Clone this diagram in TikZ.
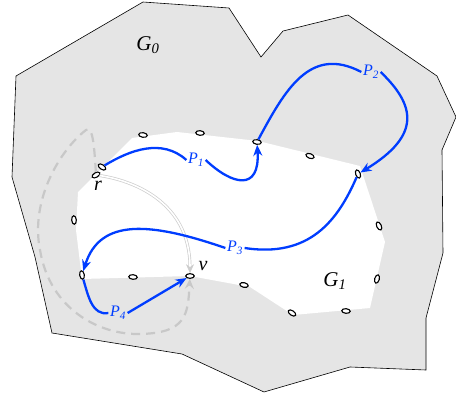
\documentclass[tikz,border=0pt]{standalone}
\usepackage{fontspec}
\setmainfont{Liberation Serif}
\usetikzlibrary{arrows.meta,shapes.geometric}
\definecolor{pathblue}{RGB}{0,61,255}
\definecolor{areagray}{RGB}{229,229,229}
\definecolor{ghostgray}{RGB}{200,200,200}
\definecolor{linkgray}{RGB}{205,205,205}

\begin{document}
\begin{tikzpicture}[x=1pt,y=-1pt,
  oval/.style={ellipse,draw,line width=1.1pt,fill=white,minimum width=8.6pt,minimum height=4.6pt,inner sep=0pt},
  route/.style={draw=pathblue,line width=2.3pt},
  tip/.style={-{Stealth[length=11pt,width=9pt,inset=3.5pt]}},
  plabel/.style={text=pathblue,font=\fontsize{16}{17}\selectfont\itshape,inner sep=1.5pt},
  glabel/.style={font=\fontsize{21}{22}\selectfont\itshape},
  vlabel/.style={font=\fontsize{20}{21}\selectfont\itshape}]
\useasboundingbox (0,0) rectangle (456,396);
% the two regions
\draw[fill=areagray,line width=0.6pt] (16,76) -- (143,2) -- (229,8) -- (261,57) -- (283,31) -- (348,15) -- (437,76) -- (456,117) -- (442,150) -- (443,253) -- (426,318) -- (426,370) -- (350,367) -- (264,392) -- (182,354) -- (52,333) -- (35,257) -- (12,177) -- cycle;
\fill[white] (132,138) -- (177,132) -- (258,141) -- (360,166) -- (385,242) -- (370,308) -- (293,315) -- (250,287) -- (190,276) -- (82,279) -- (76,230) -- (78,192) -- cycle;
% vertices on the boundary
\node[oval,rotate=-35] (r) at (102,167) {};
\node[oval,rotate=30] (r2) at (96,175) {};
\node[oval,rotate=-8] (a1) at (143,135) {};
\node[oval,rotate=-5] (a2) at (200,133) {};
\node[oval,rotate=-8] (a) at (257,142) {};
\node[oval,rotate=-20] (a3) at (310,156) {};
\node[oval,rotate=-70] (b) at (358,174) {};
\node[oval,rotate=-65] (b1) at (379,226) {};
\node[oval,rotate=75] (b2) at (377,279) {};
\node[oval,rotate=-5] (b3) at (346,311) {};
\node[oval,rotate=-35] (b4) at (292,313) {};
\node[oval,rotate=-12] (b5) at (244,285) {};
\node[oval] (v) at (190,276) {};
\node[oval,rotate=-5] (b6) at (133,277) {};
\node[oval,rotate=-80] (c) at (82,275) {};
\node[oval,rotate=-85] (c1) at (74,220) {};
% grey connections from r to v
\draw[ghostgray,line width=2.2pt,dash pattern=on 9pt off 6pt,-{Stealth[length=10pt,width=9pt,inset=3.5pt]}] (r2) .. controls (94,140) and (92,126) .. (86,130) .. controls (60,150) and (30,200) .. (40,250) .. controls (50,310) and (100,335) .. (140,334) .. controls (186,333) and (188,315) .. (v);
\draw[linkgray,double=white,line width=0.7pt,double distance=1.6pt,-{Stealth[length=9pt,width=8pt,inset=3pt]}] (r2) .. controls (130,180) and (190,200) .. (v);
\node[vlabel] (rl) at (98,186) {r};
\node[vlabel] (vl) at (203,266) {v};
\node[glabel] (g0) at (148,45) {G\textsubscript{0}};
\node[glabel] (g1) at (335,281) {G\textsubscript{1}};
% the four paths
\node[plabel] (p1) at (196,160) {P\textsubscript{1}};
\node[plabel] (p2) at (371,72) {P\textsubscript{2}};
\node[plabel] (p3) at (235,248) {P\textsubscript{3}};
\node[plabel] (p4) at (118,313) {P\textsubscript{4}};
\draw[route] (r) .. controls (130,150) and (162,138) .. (p1.west);
\draw[route,tip] (p1.east) .. controls (232,185) and (260,192) .. (a);
\draw[route] (a) .. controls (285,90) and (310,45) .. (p2.west);
\draw[route,tip] (p2.east) .. controls (415,105) and (422,135) .. (b);
\draw[route] (b) .. controls (338,220) and (310,258) .. (p3.east);
\draw[route,tip] (p3.west) .. controls (150,222) and (100,218) .. (c);
\draw[route] (c) .. controls (88,295) and (92,316) .. (p4.west);
\draw[route,tip] (p4.east) -- (v);
\end{tikzpicture}
\end{document}
